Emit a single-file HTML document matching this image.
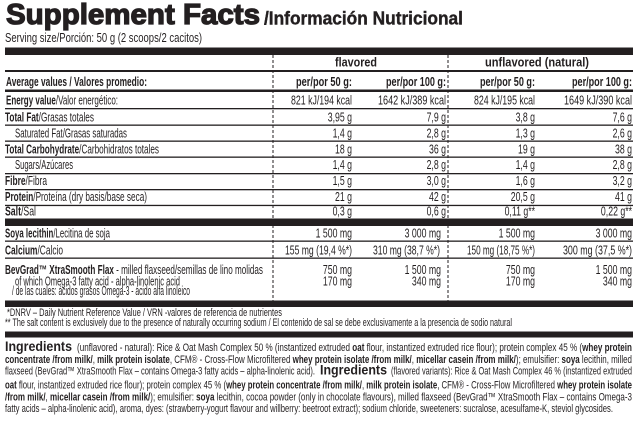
<!DOCTYPE html>
<html><head><meta charset="utf-8">
<style>
html,body{margin:0;padding:0;background:#fff;}
svg{display:block;}
text{font-family:"Liberation Sans",Arial,sans-serif;fill:#231f20;}
.l{font-size:12.5px;}
.h{font-size:13px;font-weight:bold;}
.v{font-size:12.5px;}
.f{font-size:11px;}
.i{font-size:10.8px;}
.ib{font-size:14px;font-weight:bold;}
.b{font-weight:bold;}
</style></head>
<body>
<svg width="636" height="433" viewBox="0 0 636 433" xmlns="http://www.w3.org/2000/svg">
<rect x="0" y="0" width="636" height="433" fill="#fff"/>

<!-- Title -->
<text x="6" y="24" style="font-size:29px;font-weight:bold" stroke="#231f20" stroke-width="1.3" textLength="254" lengthAdjust="spacingAndGlyphs">Supplement Facts</text>
<text x="264" y="24.5" style="font-size:18px;font-weight:bold" stroke="#231f20" stroke-width="0.4" textLength="199" lengthAdjust="spacingAndGlyphs">/Información Nutricional</text>
<text x="5" y="42" style="font-size:13px" textLength="197" lengthAdjust="spacingAndGlyphs">Serving size/Porción: 50 g (2 scoops/2 cacitos)</text>

<!-- dashed verticals -->
<line x1="273" y1="55" x2="273" y2="301" stroke="#231f20" stroke-width="1" stroke-dasharray="3,2"/>
<line x1="448" y1="55" x2="448" y2="301" stroke="#231f20" stroke-width="1" stroke-dasharray="3,2"/>

<!-- bars and lines -->
<rect x="5" y="47.5" width="628" height="7.5" fill="#231f20"/>
<rect x="5" y="70" width="628" height="2" fill="#231f20"/>
<rect x="5" y="89.5" width="628" height="2.5" fill="#231f20"/>
<rect x="5" y="108" width="628" height="1.3" fill="#231f20"/>
<rect x="5" y="124.5" width="628" height="1.3" fill="#231f20"/>
<rect x="5" y="140.5" width="628" height="1.3" fill="#231f20"/>
<rect x="5" y="156.5" width="628" height="1.3" fill="#231f20"/>
<rect x="5" y="173" width="628" height="1.3" fill="#231f20"/>
<rect x="5" y="189" width="628" height="1.3" fill="#231f20"/>
<rect x="5" y="204.8" width="628" height="1.3" fill="#231f20"/>
<rect x="5" y="218.5" width="628" height="7.5" fill="#231f20"/>
<rect x="5" y="240.5" width="628" height="1.3" fill="#231f20"/>
<rect x="5" y="257.5" width="628" height="1.3" fill="#231f20"/>
<rect x="5" y="300.5" width="628" height="6.5" fill="#231f20"/>
<rect x="5" y="331.5" width="628" height="6" fill="#231f20"/>

<!-- header -->
<text x="335" y="66.5" class="h" textLength="42" lengthAdjust="spacingAndGlyphs">flavored</text>
<text x="485" y="66.5" class="h" textLength="104" lengthAdjust="spacingAndGlyphs">unflavored (natural)</text>

<text x="6" y="86" class="l b" textLength="141" lengthAdjust="spacingAndGlyphs">Average values / Valores promedio:</text>
<text x="296" y="86" class="h" textLength="56" lengthAdjust="spacingAndGlyphs">per/por 50 g:</text>
<text x="386" y="86" class="h" textLength="60" lengthAdjust="spacingAndGlyphs">per/por 100 g:</text>
<text x="480" y="86" class="h" textLength="55" lengthAdjust="spacingAndGlyphs">per/por 50 g:</text>
<text x="572" y="86" class="h" textLength="60" lengthAdjust="spacingAndGlyphs">per/por 100 g:</text>

<!-- energy -->
<text x="6" y="104.5" class="l" textLength="112" lengthAdjust="spacingAndGlyphs"><tspan class="b">Energy value</tspan>/Valor energético:</text>
<text x="291" y="104.5" class="v" textLength="61" lengthAdjust="spacingAndGlyphs">821 kJ/194 kcal</text>
<text x="378" y="104.5" class="v" textLength="68" lengthAdjust="spacingAndGlyphs">1642 kJ/389 kcal</text>
<text x="474" y="104.5" class="v" textLength="61" lengthAdjust="spacingAndGlyphs">824 kJ/195 kcal</text>
<text x="564" y="104.5" class="v" textLength="68" lengthAdjust="spacingAndGlyphs">1649 kJ/390 kcal</text>

<!-- rows -->
<text x="5" y="121.5" class="l" textLength="89" lengthAdjust="spacingAndGlyphs"><tspan class="b">Total Fat</tspan>/Grasas totales</text>
<text x="15" y="137.5" class="l" textLength="112" lengthAdjust="spacingAndGlyphs">Saturated Fat/Grasas saturadas</text>
<text x="5" y="153.3" class="l" textLength="154" lengthAdjust="spacingAndGlyphs"><tspan class="b">Total Carbohydrate</tspan>/Carbohidratos totales</text>
<text x="15" y="169.2" class="l" textLength="58" lengthAdjust="spacingAndGlyphs">Sugars/Azúcares</text>
<text x="5" y="185.2" class="l" textLength="42" lengthAdjust="spacingAndGlyphs"><tspan class="b">Fibre</tspan>/Fibra</text>
<text x="5" y="201" class="l" textLength="142" lengthAdjust="spacingAndGlyphs"><tspan class="b">Protein</tspan>/Proteína (dry basis/base seca)</text>
<text x="5" y="215.5" class="l" textLength="31" lengthAdjust="spacingAndGlyphs"><tspan class="b">Salt</tspan>/Sal</text>

<g class="v" text-anchor="end">
<text transform="translate(352,121.5) scale(0.7,1)" class="v">3,95 g</text>
<text transform="translate(446,121.5) scale(0.7,1)" class="v">7,9 g</text>
<text transform="translate(535,121.5) scale(0.7,1)" class="v">3,8 g</text>
<text transform="translate(632,121.5) scale(0.7,1)" class="v">7,6 g</text>

<text transform="translate(352,137.5) scale(0.7,1)" class="v">1,4 g</text>
<text transform="translate(446,137.5) scale(0.7,1)" class="v">2,8 g</text>
<text transform="translate(535,137.5) scale(0.7,1)" class="v">1,3 g</text>
<text transform="translate(632,137.5) scale(0.7,1)" class="v">2,6 g</text>

<text transform="translate(352,153.3) scale(0.7,1)" class="v">18 g</text>
<text transform="translate(446,153.3) scale(0.7,1)" class="v">36 g</text>
<text transform="translate(535,153.3) scale(0.7,1)" class="v">19 g</text>
<text transform="translate(632,153.3) scale(0.7,1)" class="v">38 g</text>

<text transform="translate(352,169.2) scale(0.7,1)" class="v">1,4 g</text>
<text transform="translate(446,169.2) scale(0.7,1)" class="v">2,8 g</text>
<text transform="translate(535,169.2) scale(0.7,1)" class="v">1,4 g</text>
<text transform="translate(632,169.2) scale(0.7,1)" class="v">2,8 g</text>

<text transform="translate(352,185.2) scale(0.7,1)" class="v">1,5 g</text>
<text transform="translate(446,185.2) scale(0.7,1)" class="v">3,0 g</text>
<text transform="translate(535,185.2) scale(0.7,1)" class="v">1,6 g</text>
<text transform="translate(632,185.2) scale(0.7,1)" class="v">3,2 g</text>

<text transform="translate(352,201) scale(0.7,1)" class="v">21 g</text>
<text transform="translate(446,201) scale(0.7,1)" class="v">42 g</text>
<text transform="translate(535,201) scale(0.7,1)" class="v">20,5 g</text>
<text transform="translate(632,201) scale(0.7,1)" class="v">41 g</text>

<text transform="translate(352,215.5) scale(0.7,1)" class="v">0,3 g</text>
<text transform="translate(446,215.5) scale(0.7,1)" class="v">0,6 g</text>
<text transform="translate(535,215.5) scale(0.7,1)" class="v">0,11 g**</text>
<text transform="translate(632,215.5) scale(0.7,1)" class="v">0,22 g**</text>

<text transform="translate(352,237.5) scale(0.7,1)" class="v">1 500 mg</text>
<text transform="translate(441,237.5) scale(0.7,1)" class="v">3 000 mg</text>
<text transform="translate(535,237.5) scale(0.7,1)" class="v">1 500 mg</text>
<text transform="translate(632,237.5) scale(0.7,1)" class="v">3 000 mg</text>

<text transform="translate(352,274) scale(0.7,1)" class="v">750 mg</text>
<text transform="translate(441,274) scale(0.7,1)" class="v">1 500 mg</text>
<text transform="translate(535,274) scale(0.7,1)" class="v">750 mg</text>
<text transform="translate(632,274) scale(0.7,1)" class="v">1 500 mg</text>

<text transform="translate(352,285.5) scale(0.7,1)" class="v">170 mg</text>
<text transform="translate(441,285.5) scale(0.7,1)" class="v">340 mg</text>
<text transform="translate(535,285.5) scale(0.7,1)" class="v">170 mg</text>
<text transform="translate(632,285.5) scale(0.7,1)" class="v">340 mg</text>
</g>

<!-- lower rows -->
<text x="5" y="237.5" class="l" textLength="105" lengthAdjust="spacingAndGlyphs"><tspan class="b">Soya lecithin</tspan>/Lecitina de soja</text>
<text x="5" y="254.5" class="l" textLength="58" lengthAdjust="spacingAndGlyphs"><tspan class="b">Calcium</tspan>/Calcio</text>
<text x="285" y="254.5" class="v" textLength="67" lengthAdjust="spacingAndGlyphs">155 mg (19,4 %*)</text>
<text x="373" y="254.5" class="v" textLength="67" lengthAdjust="spacingAndGlyphs">310 mg (38,7 %*)</text>
<text x="467" y="254.5" class="v" textLength="68" lengthAdjust="spacingAndGlyphs">150 mg (18,75 %*)</text>
<text x="563" y="254.5" class="v" textLength="69" lengthAdjust="spacingAndGlyphs">300 mg (37,5 %*)</text>

<text x="5" y="274" class="l" textLength="258" lengthAdjust="spacingAndGlyphs"><tspan class="b">BevGrad™ XtraSmooth Flax</tspan> - milled flaxseed/semillas de lino molidas</text>
<text x="15" y="285.5" class="l" textLength="165" lengthAdjust="spacingAndGlyphs">of which Omega-3 fatty acid - alpha-linolenic acid</text>
<text x="12" y="295" class="l" textLength="178" lengthAdjust="spacingAndGlyphs">/ de las cuales: ácidos grasos Omega-3 - ácido alfa linoleico</text>

<!-- footnotes -->
<text x="7" y="316" class="f" textLength="275" lengthAdjust="spacingAndGlyphs">*DNRV – Daily Nutrient Reference Value / VRN -valores de referencia de nutrientes</text>
<text x="5" y="326" class="f" textLength="507" lengthAdjust="spacingAndGlyphs">** The salt content is exclusively due to the presence of naturally occurring sodium / El contenido de sal se debe exclusivamente a la presencia de sodio natural</text>

<!-- ingredients -->
<text x="5" y="351" class="ib" textLength="67" lengthAdjust="spacingAndGlyphs">Ingredients</text>
<text x="77" y="351" class="i" textLength="555" lengthAdjust="spacingAndGlyphs">(unflavored - natural): Rice &amp; Oat Mash Complex 50 % (instantized extruded <tspan class="b">oat</tspan> flour, instantized extruded rice flour); protein complex 45 % (<tspan class="b">whey protein</tspan></text>
<text x="5" y="363" class="i" textLength="627" lengthAdjust="spacingAndGlyphs"><tspan class="b">concentrate /from milk/</tspan>, <tspan class="b">milk protein isolate</tspan>, CFM® - Cross-Flow Microfiltered <tspan class="b">whey protein isolate /from milk/</tspan>, <tspan class="b">micellar casein /from milk/</tspan>); emulsifier: <tspan class="b">soya</tspan> lecithin, milled</text>
<text x="5" y="374.5" class="i" textLength="310" lengthAdjust="spacingAndGlyphs">flaxseed (BevGrad™ XtraSmooth Flax – contains Omega-3 fatty acids – alpha-linolenic acid).</text>
<text x="320" y="374.5" class="ib" textLength="67" lengthAdjust="spacingAndGlyphs">Ingredients</text>
<text x="391" y="374.5" class="i" textLength="241" lengthAdjust="spacingAndGlyphs">(flavored variants): Rice &amp; Oat Mash Complex 46 % (instantized extruded</text>
<text x="5" y="388.5" class="i" textLength="627" lengthAdjust="spacingAndGlyphs"><tspan class="b">oat</tspan> flour, instantized extruded rice flour); protein complex 45 % (<tspan class="b">whey protein concentrate /from milk/</tspan>, <tspan class="b">milk protein isolate</tspan>, CFM® - Cross-Flow Microfiltered <tspan class="b">whey protein isolate</tspan></text>
<text x="5" y="400.5" class="i" textLength="627" lengthAdjust="spacingAndGlyphs"><tspan class="b">/from milk/</tspan>, <tspan class="b">micellar casein /from milk/</tspan>); emulsifier: <tspan class="b">soya</tspan> lecithin, cocoa powder (only in chocolate flavours), milled flaxseed (BevGrad™ XtraSmooth Flax – contains Omega-3</text>
<text x="5" y="412" class="i" textLength="608" lengthAdjust="spacingAndGlyphs">fatty acids – alpha-linolenic acid), aroma, dyes: (strawberry-yogurt flavour and willberry: beetroot extract); sodium chloride, sweeteners: sucralose, acesulfame-K, steviol glycosides.</text>
</svg>
</body></html>
